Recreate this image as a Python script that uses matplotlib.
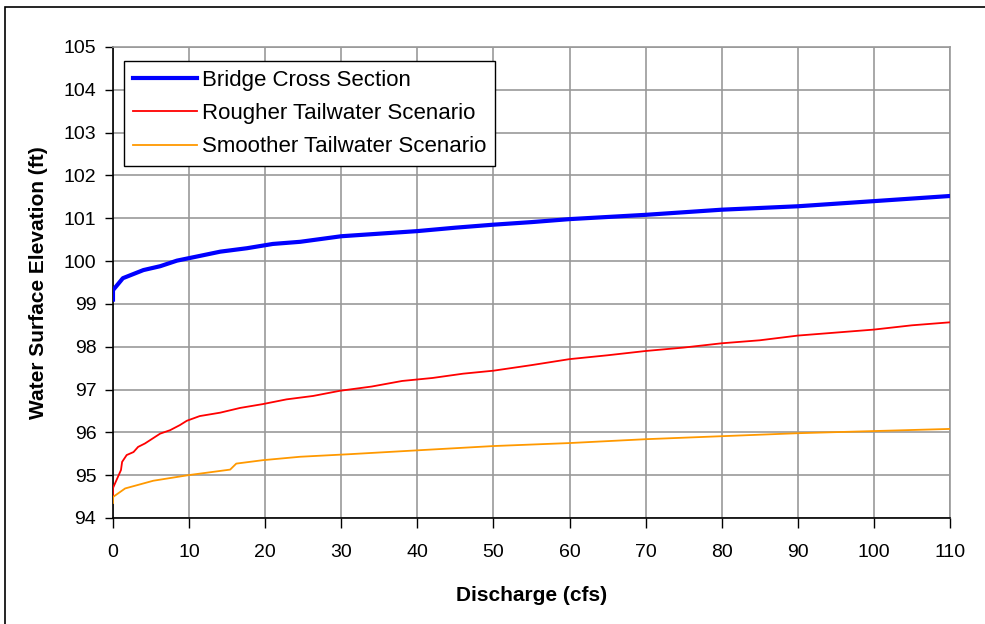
import matplotlib.pyplot as plt
from matplotlib.patches import Rectangle

plt.rcParams['font.family'] = ['Liberation Sans', 'DejaVu Sans']

# Data
bridge_x = [0, 0, 1.3, 4.0, 6.2, 8.4, 11.4, 14.1, 17.6, 21.0, 24.6, 30, 35, 40, 45, 50,
            55, 60, 70, 80, 90, 100, 110]
bridge_y = [99.1, 99.32, 99.6, 99.79, 99.88, 100.01, 100.12, 100.22, 100.30, 100.40, 100.45,
            100.58, 100.64, 100.7, 100.78, 100.85, 100.91, 100.98, 101.08, 101.2, 101.28,
            101.4, 101.52]

rough_x = [0, 0, 1.05, 1.2, 1.8, 2.7, 3.3, 4.2, 6.2, 7.5, 8.8, 9.7, 11.4, 14.1, 16.7, 19.7,
           22.8, 26.3, 29.8, 34, 38, 42, 46, 50, 55, 60, 65, 70, 75, 80, 85, 90, 95,
           100, 105, 110]
rough_y = [94.5, 94.7, 95.12, 95.31, 95.47, 95.54, 95.66, 95.74, 95.97, 96.05, 96.17, 96.27,
           96.38, 96.46, 96.57, 96.66, 96.77, 96.85, 96.97, 97.07, 97.2, 97.27, 97.37, 97.44,
           97.57, 97.71, 97.8, 97.9, 97.98, 98.08, 98.15, 98.26, 98.33, 98.4, 98.5, 98.57]

smooth_x = [0, 0, 1.6, 5.3, 9.9, 15.4, 16.2, 19.7, 24.6, 31.1, 40, 50, 60, 70, 80, 90,
            100, 110]
smooth_y = [94.35, 94.49, 94.69, 94.87, 95.0, 95.13, 95.27, 95.35, 95.43, 95.49, 95.58,
            95.68, 95.75, 95.84, 95.91, 95.98, 96.03, 96.08]

xticks = list(range(0, 111, 10))
yticks = list(range(94, 106))

fig = plt.figure(figsize=(9.85, 6.24), dpi=100)
ax = fig.add_axes([0.1147, 0.1699, 0.8498, 0.7548])

# Frame around the whole figure
fig.patches.append(Rectangle((4.5 / 985, -0.1), 1.2, 1.1 - 6.5 / 624, transform=fig.transFigure,
                             fill=False, edgecolor='black', linewidth=1.2))

ax.plot(bridge_x, bridge_y, color='#0000FF', linewidth=3, label='Bridge Cross Section', zorder=3)
ax.plot(rough_x, rough_y, color='#FF0000', linewidth=1.3, label='Rougher Tailwater Scenario', zorder=3)
ax.plot(smooth_x, smooth_y, color='#FF9900', linewidth=1.3, label='Smoother Tailwater Scenario', zorder=3)

ax.set_xlim(0, 110)
ax.set_ylim(94, 105)
ax.set_xticks(xticks)
ax.set_yticks(yticks)
ax.tick_params(axis='y', direction='out', length=6, width=1, labelsize=14, pad=6)
ax.tick_params(axis='x', direction='out', length=7, width=1, labelsize=14, pad=12)

ax.grid(True, color='#999999', linewidth=1.2)
ax.set_axisbelow(True)
for side in ['top', 'right']:
    ax.spines[side].set_color('#999999')
    ax.spines[side].set_linewidth(1.2)
for side in ['left', 'bottom']:
    ax.spines[side].set_color('black')
    ax.spines[side].set_linewidth(1.2)

ax.set_xlabel('Discharge (cfs)', fontsize=15, fontweight='bold', labelpad=18)
ax.set_ylabel('Water Surface Elevation (ft)', fontsize=15, fontweight='bold', labelpad=11)

leg = ax.legend(loc='upper left', bbox_to_anchor=(0.0131, 0.970), borderaxespad=0,
                fontsize=16, frameon=True, fancybox=False, edgecolor='black', framealpha=1,
                handlelength=2.9, handletextpad=0.2, borderpad=0.4, labelspacing=0.55)
leg.get_frame().set_linewidth(1.0)

fig.savefig('out.png', dpi=100)
